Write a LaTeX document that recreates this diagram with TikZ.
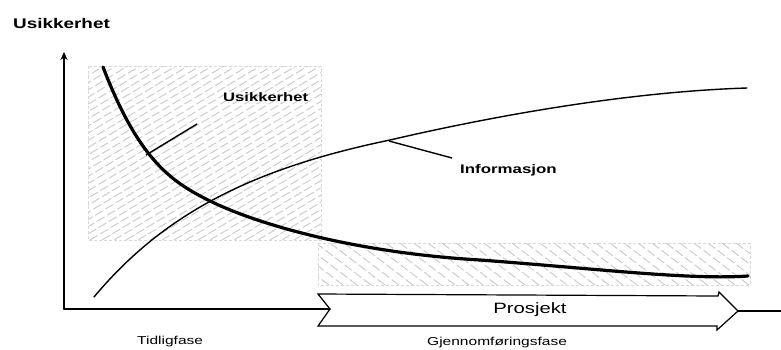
\documentclass[tikz,border=0pt]{standalone}
\usepackage{fontspec}
\newfontfamily\widesans[FakeStretch=1.35]{Liberation Sans}
\usetikzlibrary{arrows.meta}

\tikzset{
  axis/.style={line width=1.8pt, line cap=round, line join=round},
  hatchline/.style={gray!42, line width=0.9pt, dash pattern=on 9pt off 3pt},
  hatchframe/.style={gray!30, line width=0.6pt, dash pattern=on 3pt off 2pt},
  uncertainty/.style={line width=3.2pt, line cap=round},
  information/.style={line width=1.4pt, line cap=round},
  pointer/.style={line width=1.4pt},
  chevron/.style={line width=1.2pt, line join=miter},
  boldlabel/.style={inner sep=0pt, anchor=west, font=\widesans\bfseries\fontsize{12.5}{14}\selectfont},
  phaselabel/.style={inner sep=0pt, anchor=west, font=\widesans\fontsize{11.5}{13}\selectfont},
}

\begin{document}
\begin{tikzpicture}[x=1pt, y=-1pt]
\useasboundingbox (0,0) rectangle (781,349);

% early-phase uncertainty band
\begin{scope}
  \clip (88,66) rectangle (321,240);
  \foreach \a in {-210,-198,...,330}
    \draw[hatchline] (\a,240) -- ++(290,-174);
\end{scope}
\draw[hatchframe] (88,66) rectangle (321,240);

% execution-phase uncertainty band
\begin{scope}
  \clip (318,243) rectangle (750,285);
  \foreach \a in {260,274,...,760}
    \draw[hatchline] (\a,243) -- ++(55,42);
\end{scope}
\draw[hatchframe] (318,243) rectangle (750,285);

% axes
\coordinate (origin) at (64,309);
\coordinate (ytop) at (64,52);
\draw[axis, -{Stealth[length=8pt, width=7pt]}] (origin) -- (ytop);

% project chevron
\coordinate (notch) at (330,309);
\coordinate (tip) at (738,311);
\coordinate (xend) at (781,311);
\draw[axis] (origin) -- (notch);
\draw[chevron] (318,294) -- (notch) -- (318,326) -- (717,326) -- (717,330)
  -- (tip) -- (719,292) -- (718,296) -- cycle;
\draw[axis, line width=1.5pt] (tip) -- (xend);

% information curve (rising)
\draw[information] (94,297) .. controls (165,212) and (255,168) .. (390,140)
  .. controls (480,119) and (620,92) .. (747,88);

% uncertainty curve (falling)
\draw[uncertainty] (103,67) .. controls (138,158) and (170,181) .. (208,200)
  .. controls (260,226) and (360,253) .. (480,260)
  .. controls (600,269) and (690,280) .. (748,276);

% labels
\node[boldlabel, font=\widesans\bfseries\fontsize{14}{16}\selectfont] (ytitle) at (13,23) {Usikkerhet};
\node[boldlabel, font=\widesans\bfseries\fontsize{12.3}{14}\selectfont] (ulabel) at (223,97) {Usikkerhet};
\node[boldlabel] (ilabel) at (460,170) {Informasjon};
\node[font=\widesans\fontsize{15}{17}\selectfont, inner sep=0pt] (proj) at (530,310) {Prosjekt};
\node[phaselabel] (early) at (137,342) {Tidligfase};
\node[phaselabel] (exec) at (427,343) {Gjennomføringsfase};

% leader lines from labels to curves
\coordinate (uonc) at (146,155);
\coordinate (uend) at (197,124);
\coordinate (ionc) at (389,141);
\coordinate (iend) at (452,158);
\draw[pointer] (uonc) -- (uend);
\draw[pointer] (ionc) -- (iend);
\end{tikzpicture}
\end{document}
